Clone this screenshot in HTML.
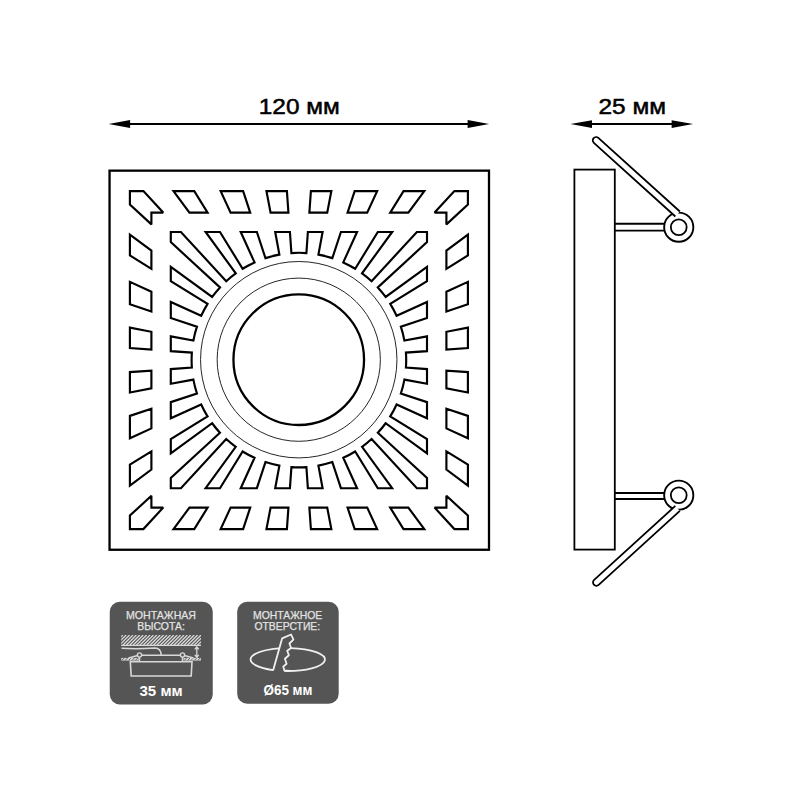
<!DOCTYPE html>
<html><head><meta charset="utf-8"><style>
html,body{margin:0;padding:0;background:#fff;}
svg{display:block;}
text{font-family:"Liberation Sans",sans-serif;}
</style></head><body>
<svg width="800" height="800" viewBox="0 0 800 800">

<rect x="109.55" y="170.65" width="379.45" height="379.1" fill="none" stroke="#000" stroke-width="2.3"/>
<path d="M310.9 191.1 L331.35 191.1 L327.22 212.6 L309.37 212.6Z M354.67 191.1 L377.15 191.1 L367.19 212.6 L347.57 212.6Z M403.51 191.1 L424.3 191.1 L408.35 212.6 L390.2 212.6Z M454.38 191.1 L467.9 191.1 L467.9 204.62 L446.4 224.4 L446.4 212.6 L434.6 212.6Z M467.9 234.7 L467.9 255.49 L446.4 268.8 L446.4 250.66Z M467.9 281.85 L467.9 304.33 L446.4 311.43 L446.4 291.81Z M467.9 327.65 L467.9 348.1 L446.4 349.63 L446.4 331.78Z M467.9 372.1 L467.9 392.55 L446.4 388.42 L446.4 370.57Z M467.9 415.87 L467.9 438.35 L446.4 428.39 L446.4 408.78Z M467.9 464.71 L467.9 485.5 L446.4 469.55 L446.4 451.4Z M467.9 515.58 L467.9 529.1 L454.38 529.1 L434.6 507.6 L446.4 507.6 L446.4 495.8Z M424.3 529.1 L403.51 529.1 L390.2 507.6 L408.34 507.6Z M377.15 529.1 L354.67 529.1 L347.58 507.6 L367.19 507.6Z M331.35 529.1 L310.9 529.1 L309.37 507.6 L327.22 507.6Z M286.9 529.1 L266.45 529.1 L270.58 507.6 L288.43 507.6Z M243.13 529.1 L220.65 529.1 L230.61 507.6 L250.22 507.6Z M194.29 529.1 L173.5 529.1 L189.45 507.6 L207.6 507.6Z M143.42 529.1 L129.9 529.1 L129.9 515.58 L151.4 495.8 L151.4 507.6 L163.2 507.6Z M129.9 485.5 L129.9 464.71 L151.4 451.4 L151.4 469.55Z M129.9 438.35 L129.9 415.87 L151.4 408.78 L151.4 428.39Z M129.9 392.55 L129.9 372.1 L151.4 370.57 L151.4 388.42Z M129.9 348.1 L129.9 327.65 L151.4 331.78 L151.4 349.63Z M129.9 304.33 L129.9 281.85 L151.4 291.81 L151.4 311.43Z M129.9 255.49 L129.9 234.7 L151.4 250.66 L151.4 268.8Z M129.9 204.62 L129.9 191.1 L143.42 191.1 L163.2 212.6 L151.4 212.6 L151.4 224.4Z M173.5 191.1 L194.29 191.1 L207.6 212.6 L189.46 212.6Z M220.65 191.1 L243.13 191.1 L250.22 212.6 L230.61 212.6Z M266.45 191.1 L286.9 191.1 L288.43 212.6 L270.58 212.6Z" fill="none" stroke="#000" stroke-width="2.15" stroke-linejoin="miter" stroke-miterlimit="2.3"/>
<path d="M306.39 253.06 L307.87 232 L322.6 232 L318.42 254.59 A107.3 107.3 0 0 1 332.34 258.14 L340.92 232 L357.06 232 L343.26 262.4 A107.3 107.3 0 0 1 355.18 268.74 L377.81 232 L392.16 232 L362.05 273.35 A107.3 107.3 0 0 1 371.59 281.17 L416.88 232 L427 232 L427 242.12 L377.83 287.41 A107.3 107.3 0 0 1 385.65 296.95 L427 266.84 L427 281.19 L390.26 303.82 A107.3 107.3 0 0 1 396.6 315.74 L427 301.94 L427 318.08 L400.86 326.66 A107.3 107.3 0 0 1 404.41 340.58 L427 336.4 L427 351.13 L405.94 352.61 A107.3 107.3 0 0 1 405.94 367.59 L427 369.07 L427 383.8 L404.41 379.62 A107.3 107.3 0 0 1 400.86 393.54 L427 402.12 L427 418.26 L396.6 404.46 A107.3 107.3 0 0 1 390.26 416.38 L427 439.01 L427 453.36 L385.65 423.25 A107.3 107.3 0 0 1 377.83 432.79 L427 478.08 L427 488.2 L416.88 488.2 L371.59 439.03 A107.3 107.3 0 0 1 362.05 446.85 L392.16 488.2 L377.81 488.2 L355.18 451.46 A107.3 107.3 0 0 1 343.26 457.8 L357.06 488.2 L340.92 488.2 L332.34 462.06 A107.3 107.3 0 0 1 318.42 465.61 L322.6 488.2 L307.87 488.2 L306.39 467.14 A107.3 107.3 0 0 1 291.41 467.14 L289.93 488.2 L275.2 488.2 L279.38 465.61 A107.3 107.3 0 0 1 265.46 462.06 L256.88 488.2 L240.74 488.2 L254.54 457.8 A107.3 107.3 0 0 1 242.62 451.46 L219.99 488.2 L205.64 488.2 L235.75 446.85 A107.3 107.3 0 0 1 226.21 439.03 L180.92 488.2 L170.8 488.2 L170.8 478.08 L219.97 432.79 A107.3 107.3 0 0 1 212.15 423.25 L170.8 453.36 L170.8 439.01 L207.54 416.38 A107.3 107.3 0 0 1 201.2 404.46 L170.8 418.26 L170.8 402.12 L196.94 393.54 A107.3 107.3 0 0 1 193.39 379.62 L170.8 383.8 L170.8 369.07 L191.86 367.59 A107.3 107.3 0 0 1 191.86 352.61 L170.8 351.13 L170.8 336.4 L193.39 340.58 A107.3 107.3 0 0 1 196.94 326.66 L170.8 318.08 L170.8 301.94 L201.2 315.74 A107.3 107.3 0 0 1 207.54 303.82 L170.8 281.19 L170.8 266.84 L212.15 296.95 A107.3 107.3 0 0 1 219.97 287.41 L170.8 242.12 L170.8 232 L180.92 232 L226.21 281.17 A107.3 107.3 0 0 1 235.75 273.35 L205.64 232 L219.99 232 L242.62 268.74 A107.3 107.3 0 0 1 254.54 262.4 L240.74 232 L256.88 232 L265.46 258.14 A107.3 107.3 0 0 1 279.38 254.59 L275.2 232 L289.93 232 L291.41 253.06 A107.3 107.3 0 0 1 306.39 253.06 Z" fill="none" stroke="#000" stroke-width="2.15" stroke-linejoin="miter"/>
<circle cx="298.75" cy="359.7" r="98.2" fill="none" stroke="#1a1a1a" stroke-width="0.95"/>
<circle cx="298.75" cy="359.7" r="81.6" fill="none" stroke="#1a1a1a" stroke-width="0.95"/>
<circle cx="298.75" cy="359.7" r="65.3" fill="none" stroke="#000" stroke-width="2.3"/>


<line x1="126.6" y1="124" x2="471.1" y2="124" stroke="#000" stroke-width="2"/>
<path d="M108.6 124 L130.1 120.1 L130.1 127.9Z" fill="#000"/>
<path d="M489.1 124 L467.6 120.1 L467.6 127.9Z" fill="#000"/>
<text x="258.8" y="113.7" font-size="22.3" stroke="#000" stroke-width="0.5" textLength="81" lengthAdjust="spacingAndGlyphs">120 мм</text>

<line x1="588.5" y1="124.1" x2="675.1" y2="124.1" stroke="#000" stroke-width="2"/>
<path d="M570.5 124.1 L592.0 120.19999999999999 L592.0 128.0Z" fill="#000"/>
<path d="M693.1 124.1 L671.6 120.19999999999999 L671.6 128.0Z" fill="#000"/>
<text x="598.5" y="113.7" font-size="22.3" stroke="#000" stroke-width="0.5" textLength="67.5" lengthAdjust="spacingAndGlyphs">25 мм</text>


<rect x="574.4" y="169.6" width="40.4" height="380" fill="none" stroke="#000" stroke-width="1.8"/>

<line x1="615" y1="223.75" x2="668.75" y2="223.75" stroke="#000" stroke-width="1.8"/>
<line x1="615" y1="230.6" x2="668.75" y2="230.6" stroke="#000" stroke-width="1.8"/>
<circle cx="678.75" cy="227.2" r="14.6" fill="#fff" stroke="#000" stroke-width="1.9"/>
<path d="M675.35 216.49 L593.85 142.89 A3.35 3.35 0 0 1 598.35 137.91 L679.85 211.51" fill="#fff" stroke="#000" stroke-width="1.8"/>
<circle cx="678.75" cy="227.2" r="7.9" fill="#fff" stroke="#000" stroke-width="1.8"/>

<line x1="615" y1="493" x2="668.75" y2="493" stroke="#000" stroke-width="1.8"/>
<line x1="615" y1="499" x2="668.75" y2="499" stroke="#000" stroke-width="1.8"/>
<circle cx="678.75" cy="495.2" r="14.6" fill="#fff" stroke="#000" stroke-width="1.9"/>
<path d="M679.86 510.88 L598.66 584.88 A3.35 3.35 0 0 1 594.14 579.92 L675.34 505.92" fill="#fff" stroke="#000" stroke-width="1.8"/>
<circle cx="678.75" cy="495.2" r="7.9" fill="#fff" stroke="#000" stroke-width="1.8"/>


<rect x="109.75" y="601.75" width="103" height="102.75" rx="10" fill="#555"/>
<rect x="237.2" y="601.75" width="101.5" height="102" rx="10" fill="#555"/>
<g fill="#e4e4e4" font-size="11.6" stroke="#e4e4e4" stroke-width="0.25">
<text x="126" y="618.7" textLength="70" lengthAdjust="spacingAndGlyphs">МОНТАЖНАЯ</text>
<text x="137.3" y="629.8" textLength="47.5" lengthAdjust="spacingAndGlyphs">ВЫСОТА:</text>
<text x="253" y="619" textLength="69.3" lengthAdjust="spacingAndGlyphs">МОНТАЖНОЕ</text>
<text x="254.5" y="630.2" textLength="65.6" lengthAdjust="spacingAndGlyphs">ОТВЕРСТИЕ:</text>
</g>
<g fill="#fff" font-size="14.2" font-weight="bold">
<text x="139.5" y="695.8" textLength="43.2" lengthAdjust="spacingAndGlyphs">35 мм</text>
<text x="263.5" y="695.2" textLength="49" lengthAdjust="spacingAndGlyphs">Ø65 мм</text>
</g>
<defs><clipPath id="hc"><rect x="121.2" y="635" width="79.8" height="10.200000000000045"/></clipPath>
<clipPath id="hc2"><rect x="121.3" y="657.9" width="17.3" height="2.7"/><rect x="183.6" y="657.9" width="17.3" height="2.7"/></clipPath></defs>
<g stroke="#d8d8d8" fill="none">
<path clip-path="url(#hc)" d="M109.2 645.2 L119.4 635 M112.6 645.2 L122.8 635 M116 645.2 L126.2 635 M119.4 645.2 L129.6 635 M122.8 645.2 L133 635 M126.2 645.2 L136.4 635 M129.6 645.2 L139.8 635 M133 645.2 L143.2 635 M136.4 645.2 L146.6 635 M139.8 645.2 L150 635 M143.2 645.2 L153.4 635 M146.6 645.2 L156.8 635 M150 645.2 L160.2 635 M153.4 645.2 L163.6 635 M156.8 645.2 L167 635 M160.2 645.2 L170.4 635 M163.6 645.2 L173.8 635 M167 645.2 L177.2 635 M170.4 645.2 L180.6 635 M173.8 645.2 L184 635 M177.2 645.2 L187.4 635 M180.6 645.2 L190.8 635 M184 645.2 L194.2 635 M187.4 645.2 L197.6 635 M190.8 645.2 L201 635 M194.2 645.2 L204.4 635 M197.6 645.2 L207.8 635 M201 645.2 L211.2 635" stroke-width="1.3"/>
<line x1="121.2" y1="645.4" x2="201" y2="645.4" stroke-width="1.2"/>
<rect x="121.3" y="657.9" width="17.3" height="2.7" fill="#d8d8d8" stroke="none"/>
<rect x="183.6" y="657.9" width="17.3" height="2.7" fill="#d8d8d8" stroke="none"/>
<path clip-path="url(#hc2)" d="M118.2 660.6 L120.9 657.9 M121.6 660.6 L124.3 657.9 M125 660.6 L127.7 657.9 M128.4 660.6 L131.1 657.9 M131.8 660.6 L134.5 657.9 M135.2 660.6 L137.9 657.9 M180.6 660.6 L183.3 657.9 M184 660.6 L186.7 657.9 M187.4 660.6 L190.1 657.9 M190.8 660.6 L193.5 657.9 M194.2 660.6 L196.9 657.9 M197.6 660.6 L200.3 657.9" stroke="#555" stroke-width="0.9"/>
<path d="M121.6 648.2 C132 648.9 145 648.6 155 648 C159.5 648.2 161 651 161.2 655" stroke-width="1.5"/>
<path d="M196.8 646.8 L196.8 657.4 M194.8 649.3 L196.8 646.8 L198.8 649.3 M194.8 654.9 L196.8 657.4 L198.8 654.9" stroke-width="1.3"/>
<path d="M139.5 661.7 L139.5 655.3 L182.5 655.3 L182.5 661.7" stroke-width="1.5"/>
<path d="M130.3 661.8 L192 661.8 L191.2 676 L131.2 676 Z" stroke-width="1.6"/>
<path d="M139.5 655 L128.5 658 M182.5 655 L193.5 658" stroke-width="1.4"/>
<circle cx="139.5" cy="655" r="2.1" stroke-width="1.4" fill="#555"/>
<circle cx="182.5" cy="655" r="2.1" stroke-width="1.4" fill="#555"/>
</g>
<g stroke="#f0f0f0" fill="none" stroke-width="1.8" stroke-linejoin="round">
<path d="M279.1 648.33 A37.4 11.5 0 0 0 273.1 670.05"/>
<path d="M290.8 648.03 A37.4 11.5 0 0 1 284.4 670.95"/>
<path d="M273.1 670.5 L282.1 638.4 L291.1 634.5 L293.4 639.6 L289.4 643.5 L291.1 648 L287.2 650.8 L288.9 655.3 L284.9 658.7 L286.6 663.75 L283.25 666.6 L284.4 670.5 L290 671"/>
</g>

</svg>
</body></html>
